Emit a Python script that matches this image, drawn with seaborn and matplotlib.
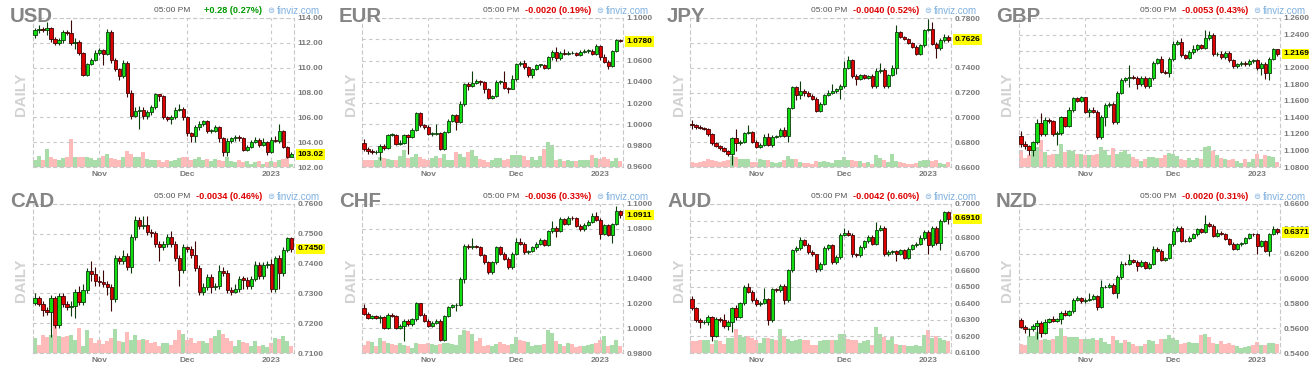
import matplotlib
matplotlib.use("Agg")
import matplotlib.pyplot as plt
import matplotlib.transforms as mtransforms
import numpy as np
import pandas as pd
import seaborn as sns

# ---------------- data ----------------
tickers = ["USD", "EUR", "JPY", "GBP", "CAD", "CHF", "AUD", "NZD"]
changes = ["+0.28 (0.27%)", "-0.0020 (0.19%)", "-0.0040 (0.52%)", "-0.0053 (0.43%)",
           "-0.0034 (0.46%)", "-0.0036 (0.33%)", "-0.0042 (0.60%)", "-0.0020 (0.31%)"]
last_labels = ["103.02", "1.0780", "0.7626", "1.2169", "0.7450", "1.0911", "0.6910", "0.6371"]
time_label = "05:00 PM"
date_labels = ["Nov", "Dec", "2023"]
date_index = [16, 38, 59]

usd_yticks = [102, 104, 106, 108, 110, 112, 114]
eur_yticks = [0.96, 0.98, 1.00, 1.02, 1.04, 1.06, 1.08, 1.10]
jpy_yticks = [0.66, 0.68, 0.70, 0.72, 0.74, 0.76, 0.78]
gbp_yticks = [1.08, 1.10, 1.12, 1.14, 1.16, 1.18, 1.20, 1.22, 1.24, 1.26]
cad_yticks = [0.71, 0.72, 0.73, 0.74, 0.75, 0.76]
chf_yticks = [0.98, 1.00, 1.02, 1.04, 1.06, 1.08, 1.10]
aud_yticks = [0.61, 0.62, 0.63, 0.64, 0.65, 0.66, 0.67, 0.68, 0.69, 0.70]
nzd_yticks = [0.54, 0.56, 0.58, 0.60, 0.62, 0.64, 0.66]

usd_open0 = 112.6
usd_close = [113.0, 113.1, 113.0, 113.2, 112.3, 112.0, 112.2, 112.9, 112.8, 112.0,
             112.1, 111.2, 109.4, 110.3, 110.6, 111.2, 111.4, 111.1, 112.9, 110.6,
             109.9, 109.3, 110.4, 108.0, 106.1, 106.5, 106.6, 106.1, 106.4, 106.8,
             107.9, 107.7, 106.0, 105.9, 106.0, 106.6, 106.7, 106.0, 104.7, 104.5,
             105.2, 105.5, 105.7, 104.9, 104.9, 105.2, 104.3, 103.2, 104.1, 104.3,
             104.4, 104.3, 103.4, 103.6, 104.0, 104.2, 103.8, 104.0, 103.2, 104.2,
             104.1, 104.9, 103.6, 102.8, 103.02]
usd_high = [113.2, 113.4, 113.3, 113.7, 113.3, 112.5, 112.4, 113.0, 113.0, 113.8,
            112.4, 112.2, 111.3, 110.4, 110.8, 111.4, 111.6, 111.5, 113.1, 113.0,
            110.8, 110.0, 110.6, 110.5, 108.2, 106.8, 106.9, 106.8, 106.6, 107.0,
            108.0, 107.9, 107.8, 106.1, 106.2, 106.8, 107.1, 106.8, 106.1, 104.8,
            105.4, 105.7, 105.8, 105.8, 105.1, 105.4, 105.3, 104.4, 104.3, 104.4,
            104.6, 104.6, 104.4, 103.8, 104.2, 104.4, 104.3, 104.3, 104.1, 104.4,
            104.5, 105.5, 105.0, 103.7, 103.2]
usd_low = [112.4, 112.8, 112.9, 112.6, 112.1, 111.8, 111.8, 112.0, 112.6, 111.8,
           111.5, 111.0, 109.3, 109.3, 110.2, 110.5, 111.0, 110.2, 111.0, 110.4,
           109.7, 109.0, 109.2, 107.6, 105.9, 106.0, 105.1, 105.9, 105.9, 106.2,
           106.7, 107.3, 105.9, 105.7, 105.5, 105.9, 106.5, 105.8, 104.5, 104.0,
           104.0, 105.0, 105.3, 104.7, 104.7, 104.8, 104.0, 102.9, 102.9, 103.9,
           104.1, 104.1, 103.3, 103.3, 103.5, 103.9, 103.6, 103.7, 103.0, 103.1,
           104.0, 103.9, 103.5, 102.7, 102.8]
usd_vol = [20, 32, 22, 55, 30, 25, 22, 28, 30, 85, 30, 30, 30, 30, 28, 22, 28, 32, 38, 28,
           25, 22, 30, 48, 40, 30, 30, 45, 25, 20, 20, 22, 15, 20, 18, 22, 28, 30, 30, 22,
           25, 30, 22, 25, 18, 25, 22, 18, 30, 18, 15, 20, 15, 18, 10, 15, 18, 10, 15, 18,
           15, 20, 25, 28, 10]

eur_open0 = 0.983
eur_close = [0.977, 0.975, 0.974, 0.974, 0.980, 0.978, 0.990, 0.990, 0.982, 0.983,
             0.990, 0.988, 0.995, 1.011, 0.999, 0.998, 0.991, 0.991, 0.992, 0.977,
             0.993, 1.003, 1.009, 1.002, 1.019, 1.038, 1.036, 1.039, 1.041, 1.040,
             1.033, 1.025, 1.027, 1.040, 1.040, 1.034, 1.033, 1.043, 1.057, 1.058,
             1.054, 1.046, 1.052, 1.056, 1.056, 1.053, 1.063, 1.068, 1.062, 1.067,
             1.066, 1.067, 1.067, 1.065, 1.068, 1.069, 1.069, 1.066, 1.074, 1.063,
             1.059, 1.055, 1.069, 1.079, 1.078]
eur_high = [0.986, 0.979, 0.977, 0.976, 0.982, 0.982, 0.991, 0.992, 0.991, 0.985,
            0.991, 0.991, 0.997, 1.012, 1.012, 1.000, 0.999, 0.993, 1.000, 0.993,
            0.994, 1.005, 1.010, 1.010, 1.022, 1.039, 1.040, 1.050, 1.043, 1.042,
            1.041, 1.034, 1.028, 1.042, 1.042, 1.050, 1.035, 1.046, 1.058, 1.060,
            1.061, 1.055, 1.053, 1.057, 1.057, 1.057, 1.064, 1.070, 1.073, 1.069,
            1.071, 1.069, 1.069, 1.068, 1.070, 1.071, 1.071, 1.071, 1.076, 1.075,
            1.066, 1.061, 1.070, 1.080, 1.080]
eur_low = [0.975, 0.972, 0.972, 0.972, 0.967, 0.976, 0.977, 0.989, 0.981, 0.981,
           0.982, 0.972, 0.987, 0.994, 0.998, 0.996, 0.990, 0.989, 0.990, 0.976,
           0.976, 0.992, 1.002, 0.995, 1.001, 1.017, 1.032, 1.035, 1.038, 1.037,
           1.030, 1.024, 1.024, 1.026, 1.038, 1.033, 1.030, 1.033, 1.041, 1.055,
           1.052, 1.045, 1.044, 1.051, 1.054, 1.052, 1.052, 1.061, 1.060, 1.061,
           1.065, 1.065, 1.066, 1.064, 1.064, 1.067, 1.067, 1.065, 1.065, 1.061,
           1.058, 1.052, 1.054, 1.068, 1.077]
eur_vol = [22, 22, 22, 22, 30, 28, 25, 22, 22, 32, 50, 28, 30, 38, 30, 25, 20, 28, 32, 26,
           40, 22, 22, 45, 40, 30, 45, 50, 32, 25, 20, 15, 22, 28, 28, 22, 25, 35, 35, 35,
           32, 22, 30, 22, 32, 55, 75, 65, 22, 25, 18, 22, 18, 18, 20, 20, 22, 35, 28, 25,
           30, 25, 18, 28, 18]

jpy_open0 = 0.6945
jpy_close = [0.6935, 0.6925, 0.6915, 0.6905, 0.6865, 0.6790, 0.6770, 0.6750, 0.6730, 0.6705,
             0.6830, 0.6790, 0.6800, 0.6875, 0.6880, 0.6805, 0.6760, 0.6780, 0.6845, 0.6780,
             0.6845, 0.6850, 0.6900, 0.6850, 0.7075, 0.7245, 0.7180, 0.7215, 0.7200, 0.7175,
             0.7150, 0.7050, 0.7110, 0.7180, 0.7200, 0.7210, 0.7225, 0.7250, 0.7400, 0.7460,
             0.7330, 0.7310, 0.7340, 0.7320, 0.7330, 0.7250, 0.7375, 0.7385, 0.7250, 0.7340,
             0.7400, 0.7685, 0.7645, 0.7630, 0.7600, 0.7570, 0.7510, 0.7580, 0.7705, 0.7710,
             0.7590, 0.7555, 0.7620, 0.7645, 0.7626]
jpy_high = [0.6980, 0.6950, 0.6935, 0.6925, 0.6915, 0.6875, 0.6800, 0.6780, 0.6765, 0.6740,
            0.6840, 0.6905, 0.6815, 0.6880, 0.6935, 0.6890, 0.6815, 0.6790, 0.6865, 0.6870,
            0.6855, 0.6860, 0.6915, 0.6920, 0.7085, 0.7255, 0.7250, 0.7290, 0.7225, 0.7215,
            0.7185, 0.7160, 0.7120, 0.7190, 0.7220, 0.7270, 0.7235, 0.7265, 0.7450, 0.7495,
            0.7470, 0.7345, 0.7350, 0.7350, 0.7340, 0.7345, 0.7395, 0.7440, 0.7395, 0.7350,
            0.7420, 0.7745, 0.7695, 0.7655, 0.7640, 0.7610, 0.7580, 0.7590, 0.7715, 0.7790,
            0.7770, 0.7605, 0.7635, 0.7670, 0.7660]
jpy_low = [0.6905, 0.6910, 0.6905, 0.6895, 0.6850, 0.6775, 0.6760, 0.6740, 0.6720, 0.6690,
           0.6620, 0.6725, 0.6780, 0.6790, 0.6865, 0.6795, 0.6750, 0.6750, 0.6770, 0.6770,
           0.6765, 0.6830, 0.6840, 0.6840, 0.6800, 0.7065, 0.7140, 0.7150, 0.7170, 0.7165,
           0.7140, 0.7040, 0.7040, 0.7100, 0.7170, 0.7190, 0.7200, 0.7150, 0.7240, 0.7390,
           0.7320, 0.7260, 0.7300, 0.7310, 0.7310, 0.7240, 0.7240, 0.7360, 0.7235, 0.7240,
           0.7330, 0.7350, 0.7635, 0.7620, 0.7590, 0.7560, 0.7500, 0.7500, 0.7570, 0.7695,
           0.7580, 0.7475, 0.7545, 0.7605, 0.7610]
jpy_vol = [15, 12, 15, 18, 25, 20, 18, 15, 18, 20, 32, 30, 25, 25, 25, 15, 15, 25, 22, 22,
           15, 12, 15, 20, 32, 25, 25, 15, 12, 12, 10, 18, 15, 18, 15, 12, 22, 22, 30, 22,
           20, 18, 18, 12, 15, 10, 35, 28, 22, 15, 38, 18, 15, 12, 10, 10, 12, 18, 20, 22,
           18, 20, 12, 10, 15]

gbp_open0 = 1.118
gbp_close = [1.108, 1.105, 1.101, 1.110, 1.133, 1.120, 1.137, 1.135, 1.120, 1.121,
             1.140, 1.130, 1.149, 1.163, 1.160, 1.164, 1.147, 1.149, 1.147, 1.116,
             1.140, 1.155, 1.156, 1.134, 1.170, 1.185, 1.187, 1.189, 1.188, 1.180,
             1.188, 1.178, 1.187, 1.206, 1.210, 1.195, 1.194, 1.210, 1.229, 1.231,
             1.215, 1.212, 1.219, 1.222, 1.227, 1.224, 1.236, 1.240, 1.216, 1.217,
             1.213, 1.218, 1.209, 1.202, 1.204, 1.206, 1.204, 1.208, 1.209, 1.199,
             1.205, 1.193, 1.211, 1.222, 1.2169]
gbp_high = [1.124, 1.111, 1.107, 1.112, 1.138, 1.145, 1.140, 1.139, 1.137, 1.123,
            1.142, 1.141, 1.152, 1.165, 1.165, 1.166, 1.165, 1.151, 1.152, 1.149,
            1.143, 1.157, 1.158, 1.158, 1.172, 1.187, 1.189, 1.203, 1.191, 1.190,
            1.190, 1.190, 1.189, 1.208, 1.212, 1.214, 1.197, 1.213, 1.232, 1.233,
            1.236, 1.217, 1.221, 1.227, 1.229, 1.229, 1.245, 1.244, 1.242, 1.219,
            1.220, 1.220, 1.220, 1.211, 1.206, 1.208, 1.208, 1.210, 1.210, 1.211,
            1.207, 1.207, 1.213, 1.224, 1.223]
gbp_low = [1.104, 1.102, 1.095, 1.093, 1.108, 1.118, 1.118, 1.133, 1.118, 1.106,
           1.119, 1.128, 1.128, 1.147, 1.158, 1.158, 1.145, 1.141, 1.145, 1.114,
           1.114, 1.130, 1.153, 1.132, 1.132, 1.168, 1.183, 1.177, 1.186, 1.174,
           1.178, 1.176, 1.176, 1.185, 1.204, 1.193, 1.192, 1.189, 1.208, 1.227,
           1.213, 1.210, 1.210, 1.217, 1.220, 1.222, 1.222, 1.234, 1.214, 1.214,
           1.211, 1.211, 1.207, 1.200, 1.200, 1.202, 1.202, 1.202, 1.206, 1.197,
           1.191, 1.186, 1.185, 1.209, 1.214]
gbp_vol = [48, 28, 35, 55, 60, 80, 45, 35, 38, 40, 68, 45, 52, 48, 40, 38, 35, 35, 35, 38,
           60, 50, 35, 58, 38, 45, 52, 38, 30, 25, 18, 25, 30, 30, 28, 28, 35, 42, 38, 32,
           25, 22, 28, 22, 28, 25, 60, 62, 48, 35, 28, 25, 22, 25, 18, 12, 25, 15, 25, 40,
           25, 35, 32, 30, 15]

cad_open0 = 0.7268
cad_close = [0.7285, 0.7265, 0.7245, 0.7237, 0.7285, 0.7195, 0.7290, 0.7265, 0.7255, 0.7258,
             0.7305, 0.7270, 0.7310, 0.7375, 0.7365, 0.7340, 0.7338, 0.7330, 0.7320, 0.7280,
             0.7420, 0.7410, 0.7425, 0.7390, 0.7490, 0.7545, 0.7525, 0.7530, 0.7505, 0.7503,
             0.7465, 0.7455, 0.7465, 0.7490, 0.7465, 0.7420, 0.7380, 0.7455, 0.7450, 0.7430,
             0.7385, 0.7305, 0.7320, 0.7355, 0.7320, 0.7325, 0.7375, 0.7370, 0.7310, 0.7305,
             0.7315, 0.7350, 0.7345, 0.7325, 0.7350, 0.7395, 0.7360, 0.7395, 0.7400, 0.7315,
             0.7420, 0.7370, 0.7445, 0.7485, 0.7450]
cad_high = [0.7300, 0.7290, 0.7275, 0.7255, 0.7295, 0.7290, 0.7300, 0.7300, 0.7275, 0.7275,
            0.7315, 0.7325, 0.7330, 0.7385, 0.7410, 0.7390, 0.7360, 0.7380, 0.7340, 0.7330,
            0.7430, 0.7425, 0.7445, 0.7435, 0.7500, 0.7560, 0.7555, 0.7560, 0.7560, 0.7515,
            0.7510, 0.7475, 0.7475, 0.7500, 0.7510, 0.7475, 0.7430, 0.7465, 0.7460, 0.7460,
            0.7475, 0.7395, 0.7335, 0.7365, 0.7365, 0.7335, 0.7395, 0.7390, 0.7380, 0.7320,
            0.7330, 0.7360, 0.7360, 0.7355, 0.7360, 0.7410, 0.7405, 0.7405, 0.7410, 0.7415,
            0.7425, 0.7430, 0.7455, 0.7490, 0.7488]
cad_low = [0.7260, 0.7258, 0.7225, 0.7228, 0.7155, 0.7185, 0.7185, 0.7255, 0.7245, 0.7225,
           0.7218, 0.7260, 0.7262, 0.7300, 0.7340, 0.7325, 0.7325, 0.7320, 0.7295, 0.7240,
           0.7270, 0.7400, 0.7400, 0.7380, 0.7367, 0.7480, 0.7515, 0.7515, 0.7495, 0.7490,
           0.7455, 0.7410, 0.7445, 0.7455, 0.7455, 0.7410, 0.7325, 0.7370, 0.7440, 0.7420,
           0.7375, 0.7295, 0.7295, 0.7310, 0.7300, 0.7310, 0.7315, 0.7360, 0.7300, 0.7295,
           0.7300, 0.7305, 0.7315, 0.7315, 0.7315, 0.7340, 0.7350, 0.7350, 0.7385, 0.7305,
           0.7305, 0.7315, 0.7360, 0.7440, 0.7440]
cad_vol = [45, 25, 55, 48, 55, 85, 50, 48, 50, 55, 40, 75, 22, 70, 45, 30, 40, 28, 35, 45,
           72, 35, 32, 62, 38, 55, 38, 42, 40, 30, 32, 22, 30, 30, 25, 40, 68, 58, 38, 45,
           30, 35, 35, 30, 45, 50, 68, 58, 45, 35, 22, 40, 32, 30, 20, 35, 22, 25, 18, 30,
           45, 42, 52, 35, 20]

chf_open0 = 1.0165
chf_close = [1.0115, 1.0085, 1.0095, 1.0085, 1.0090, 1.0000, 1.0110, 1.0100, 1.0000, 1.0020,
             1.0060, 1.0030, 1.0070, 1.0200, 1.0110, 1.0060, 1.0020, 1.0040, 1.0060, 0.9905,
             1.0100, 1.0170, 1.0185, 1.0190, 1.0395, 1.0665, 1.0650, 1.0660, 1.0655, 1.0590,
             1.0530, 1.0450, 1.0530, 1.0650, 1.0600, 1.0560, 1.0490, 1.0600, 1.0690, 1.0680,
             1.0610, 1.0620, 1.0650, 1.0680, 1.0710, 1.0670, 1.0780, 1.0810, 1.0785, 1.0880,
             1.0840, 1.0890, 1.0885, 1.0825, 1.0795, 1.0830, 1.0855, 1.0900, 1.0875, 1.0760,
             1.0830, 1.0750, 1.0840, 1.0940, 1.0911]
chf_high = [1.0195, 1.0130, 1.0110, 1.0105, 1.0105, 1.0100, 1.0120, 1.0120, 1.0110, 1.0030,
            1.0070, 1.0070, 1.0085, 1.0210, 1.0205, 1.0120, 1.0070, 1.0055, 1.0075, 1.0070,
            1.0110, 1.0180, 1.0195, 1.0200, 1.0410, 1.0675, 1.0675, 1.0730, 1.0670, 1.0665,
            1.0600, 1.0540, 1.0540, 1.0660, 1.0665, 1.0610, 1.0570, 1.0610, 1.0730, 1.0725,
            1.0690, 1.0630, 1.0660, 1.0690, 1.0725, 1.0720, 1.0790, 1.0865, 1.0820, 1.0895,
            1.0890, 1.0905, 1.0900, 1.0895, 1.0835, 1.0845, 1.0870, 1.0925, 1.0935, 1.0885,
            1.0840, 1.0840, 1.0850, 1.0985, 1.0950]
chf_low = [1.0105, 1.0070, 1.0075, 1.0075, 1.0040, 0.9990, 0.9990, 1.0090, 0.9990, 0.9990,
           0.9900, 1.0020, 1.0020, 1.0060, 1.0100, 1.0050, 1.0010, 1.0010, 1.0030, 0.9895,
           0.9895, 1.0090, 1.0160, 1.0140, 1.0180, 1.0365, 1.0640, 1.0640, 1.0645, 1.0580,
           1.0520, 1.0440, 1.0440, 1.0520, 1.0590, 1.0550, 1.0480, 1.0480, 1.0590, 1.0670,
           1.0600, 1.0600, 1.0610, 1.0640, 1.0670, 1.0660, 1.0660, 1.0770, 1.0735, 1.0775,
           1.0830, 1.0830, 1.0875, 1.0815, 1.0785, 1.0785, 1.0820, 1.0845, 1.0865, 1.0720,
           1.0750, 1.0740, 1.0685, 1.0830, 1.0890]
chf_vol = [25, 35, 32, 20, 45, 35, 30, 28, 25, 30, 25, 20, 15, 30, 28, 28, 30, 28, 25, 28,
           30, 30, 28, 25, 55, 70, 65, 58, 35, 45, 22, 25, 20, 28, 32, 28, 25, 28, 48, 38,
           35, 32, 20, 25, 25, 28, 70, 60, 35, 28, 22, 30, 28, 18, 20, 22, 25, 28, 30, 40,
           50, 22, 25, 40, 20]

aud_open0 = 0.6425
aud_close = [0.6370, 0.6300, 0.6285, 0.6285, 0.6315, 0.6205, 0.6305, 0.6300, 0.6265, 0.6290,
             0.6370, 0.6320, 0.6400, 0.6500, 0.6470, 0.6420, 0.6395, 0.6405, 0.6425, 0.6300,
             0.6485, 0.6480, 0.6505, 0.6420, 0.6600, 0.6720, 0.6735, 0.6780, 0.6755, 0.6710,
             0.6695, 0.6605, 0.6640, 0.6735, 0.6750, 0.6650, 0.6680, 0.6815, 0.6825, 0.6815,
             0.6695, 0.6690, 0.6740, 0.6775, 0.6800, 0.6760, 0.6845, 0.6855, 0.6695, 0.6710,
             0.6715, 0.6700, 0.6720, 0.6675, 0.6730, 0.6750, 0.6760, 0.6795, 0.6830, 0.6750,
             0.6855, 0.6765, 0.6900, 0.6950, 0.6910]
aud_high = [0.6445, 0.6380, 0.6310, 0.6300, 0.6330, 0.6325, 0.6320, 0.6315, 0.6335, 0.6300,
            0.6380, 0.6390, 0.6410, 0.6510, 0.6520, 0.6480, 0.6430, 0.6415, 0.6490, 0.6435,
            0.6495, 0.6490, 0.6515, 0.6515, 0.6610, 0.6730, 0.6745, 0.6800, 0.6790, 0.6765,
            0.6720, 0.6700, 0.6650, 0.6745, 0.6760, 0.6760, 0.6690, 0.6825, 0.6855, 0.6840,
            0.6825, 0.6705, 0.6750, 0.6785, 0.6815, 0.6810, 0.6890, 0.6875, 0.6865, 0.6720,
            0.6725, 0.6725, 0.6730, 0.6730, 0.6740, 0.6760, 0.6770, 0.6810, 0.6845, 0.6840,
            0.6865, 0.6865, 0.6910, 0.6960, 0.6955]
aud_low = [0.6360, 0.6290, 0.6250, 0.6275, 0.6270, 0.6175, 0.6195, 0.6285, 0.6250, 0.6240,
           0.6225, 0.6300, 0.6310, 0.6390, 0.6460, 0.6410, 0.6385, 0.6385, 0.6395, 0.6270,
           0.6290, 0.6470, 0.6470, 0.6395, 0.6410, 0.6590, 0.6710, 0.6725, 0.6745, 0.6700,
           0.6685, 0.6590, 0.6595, 0.6630, 0.6725, 0.6640, 0.6640, 0.6670, 0.6805, 0.6805,
           0.6680, 0.6680, 0.6680, 0.6730, 0.6765, 0.6750, 0.6750, 0.6835, 0.6685, 0.6685,
           0.6700, 0.6655, 0.6690, 0.6665, 0.6665, 0.6720, 0.6740, 0.6750, 0.6785, 0.6700,
           0.6740, 0.6755, 0.6725, 0.6890, 0.6880]
aud_vol = [35, 35, 40, 38, 40, 28, 38, 35, 28, 45, 45, 72, 55, 48, 50, 45, 38, 30, 45, 45,
           42, 40, 72, 50, 42, 35, 38, 42, 40, 38, 25, 25, 35, 40, 38, 38, 38, 58, 58, 42,
           38, 40, 30, 35, 38, 25, 78, 58, 48, 38, 48, 28, 25, 25, 22, 22, 25, 22, 55, 70,
           45, 50, 45, 38, 35]

nzd_open0 = 0.5665
nzd_close = [0.5610, 0.5590, 0.5590, 0.5615, 0.5645, 0.5565, 0.5650, 0.5670, 0.5660, 0.5670,
             0.5725, 0.5710, 0.5735, 0.5830, 0.5840, 0.5815, 0.5825, 0.5835, 0.5860, 0.5770,
             0.5930, 0.5935, 0.5950, 0.5885, 0.6010, 0.6120, 0.6115, 0.6150, 0.6135, 0.6100,
             0.6130, 0.6085, 0.6120, 0.6240, 0.6225, 0.6150, 0.6165, 0.6275, 0.6385, 0.6405,
             0.6305, 0.6300, 0.6330, 0.6355, 0.6395, 0.6375, 0.6440, 0.6425, 0.6345, 0.6370,
             0.6360, 0.6320, 0.6280, 0.6240, 0.6275, 0.6285, 0.6325, 0.6360, 0.6355, 0.6260,
             0.6300, 0.6225, 0.6360, 0.6395, 0.6371]
nzd_high = [0.5680, 0.5625, 0.5605, 0.5630, 0.5665, 0.5655, 0.5675, 0.5685, 0.5700, 0.5680,
            0.5735, 0.5745, 0.5750, 0.5840, 0.5860, 0.5850, 0.5840, 0.5880, 0.5875, 0.5870,
            0.5985, 0.5945, 0.5965, 0.5960, 0.6025, 0.6140, 0.6135, 0.6200, 0.6160, 0.6145,
            0.6145, 0.6140, 0.6130, 0.6265, 0.6250, 0.6235, 0.6175, 0.6285, 0.6410, 0.6420,
            0.6425, 0.6315, 0.6340, 0.6365, 0.6405, 0.6405, 0.6510, 0.6455, 0.6435, 0.6400,
            0.6380, 0.6370, 0.6330, 0.6290, 0.6285, 0.6295, 0.6335, 0.6370, 0.6370, 0.6365,
            0.6310, 0.6310, 0.6370, 0.6420, 0.6405]
nzd_low = [0.5600, 0.5560, 0.5540, 0.5580, 0.5510, 0.5530, 0.5555, 0.5640, 0.5650, 0.5650,
           0.5630, 0.5700, 0.5700, 0.5725, 0.5820, 0.5805, 0.5805, 0.5815, 0.5825, 0.5745,
           0.5760, 0.5920, 0.5925, 0.5875, 0.5840, 0.6000, 0.6105, 0.6105, 0.6125, 0.6060,
           0.6090, 0.6075, 0.6075, 0.6110, 0.6215, 0.6140, 0.6140, 0.6155, 0.6265, 0.6375,
           0.6295, 0.6290, 0.6290, 0.6320, 0.6345, 0.6365, 0.6365, 0.6415, 0.6335, 0.6335,
           0.6350, 0.6310, 0.6270, 0.6230, 0.6230, 0.6265, 0.6275, 0.6315, 0.6345, 0.6196,
           0.6250, 0.6215, 0.6182, 0.6350, 0.6360]
nzd_vol = [28, 25, 50, 50, 62, 38, 42, 40, 42, 50, 75, 50, 48, 48, 48, 42, 42, 42, 45, 38,
           45, 32, 28, 50, 40, 30, 38, 32, 28, 22, 20, 28, 40, 35, 28, 42, 42, 55, 45, 40,
           28, 30, 32, 30, 30, 55, 58, 48, 30, 28, 35, 28, 30, 25, 20, 15, 18, 20, 25, 32,
           25, 25, 30, 30, 28]

panels = [
    ("USD", usd_open0, usd_close, usd_high, usd_low, usd_vol, usd_yticks, 2),
    ("EUR", eur_open0, eur_close, eur_high, eur_low, eur_vol, eur_yticks, 4),
    ("JPY", jpy_open0, jpy_close, jpy_high, jpy_low, jpy_vol, jpy_yticks, 4),
    ("GBP", gbp_open0, gbp_close, gbp_high, gbp_low, gbp_vol, gbp_yticks, 4),
    ("CAD", cad_open0, cad_close, cad_high, cad_low, cad_vol, cad_yticks, 4),
    ("CHF", chf_open0, chf_close, chf_high, chf_low, chf_vol, chf_yticks, 4),
    ("AUD", aud_open0, aud_close, aud_high, aud_low, aud_vol, aud_yticks, 4),
    ("NZD", nzd_open0, nzd_close, nzd_high, nzd_low, nzd_vol, nzd_yticks, 4),
]

# ---------------- style ----------------
sns.set_style("white")
plt.rcParams["font.family"] = ["Liberation Sans", "DejaVu Sans"]

W, H = 1309, 372
COL_LEFT = [33, 362, 690, 1019]
ROW_TOP = [18, 204]
PW, PH = 260.5, 149

UP_FILL, DN_FILL = "#11dd11", "#dd0000"
UP_EDGE, DN_EDGE = "#0b3d0b", "#3d0505"
VOL_UP, VOL_DN = "#a8dca8", "#ffbaba"
GRID = "#c8c8c8"
TXT = "#7a7a7a"

fig = plt.figure(figsize=(W / 100, H / 100), dpi=100)
fig.patch.set_facecolor("white")


def fx(x):
    return x / W


def fy(y):
    return 1 - y / H


for k, (name, open0, close, high, low, vol, yticks, dec) in enumerate(panels):
    col, row = k % 4, k // 4
    left, top = COL_LEFT[col], ROW_TOP[row]
    rect = [fx(left), fy(top + PH), PW / W, PH / H]
    n = len(close)
    idx = np.arange(n)
    opens = np.array([open0] + list(close[:-1]))
    c = np.array(close)
    up = c >= opens

    # volume
    vax = fig.add_axes(rect)
    df = pd.DataFrame({"i": idx, "vol": vol, "dir": np.where(up, "up", "down")})
    sns.barplot(data=df, x="i", y="vol", hue="dir", palette={"up": VOL_UP, "down": VOL_DN},
                native_scale=True, width=1.0, linewidth=0, saturation=1, errorbar=None,
                legend=False, dodge=False, ax=vax)
    vax.set_xlim(-0.5, 64.6)
    vax.set_ylim(0, 445)
    vax.axis("off")

    # price
    ax = fig.add_axes(rect)
    ax.set_facecolor("none")
    ymin, ymax = yticks[0], yticks[-1]
    eps = (ymax - ymin) * 0.004
    body_lo = np.minimum(opens, c)
    body_h = np.maximum(np.abs(c - opens), eps)
    ax.vlines(idx, low, high, colors=np.where(up, UP_EDGE, DN_EDGE), linewidth=0.8, zorder=2)
    ax.bar(idx, body_h, bottom=body_lo, width=0.76, color=np.where(up, UP_FILL, DN_FILL),
           edgecolor=np.where(up, UP_EDGE, DN_EDGE), linewidth=0.6, zorder=3)
    ax.set_xlim(-0.5, 64.6)
    ax.set_ylim(ymin, ymax)

    ax.yaxis.tick_right()
    ax.set_yticks(yticks)
    ax.set_yticklabels([f"{v:.{dec}f}" for v in yticks])
    ax.set_xticks(date_index)
    ax.set_xticklabels(date_labels)
    ax.tick_params(axis="both", length=0, labelsize=6.0, labelcolor=TXT)
    ax.tick_params(axis="y", pad=3)
    ax.tick_params(axis="x", pad=3)
    for lab in ax.get_xticklabels() + ax.get_yticklabels():
        lab.set_fontweight("bold")
    ax.grid(True, linestyle=(0, (3, 3)), color=GRID, linewidth=0.8)
    for s in ax.spines.values():
        s.set_visible(True)
        s.set_linestyle((0, (3, 3)))
        s.set_color(GRID)
        s.set_linewidth(0.8)
    ax.set_xlabel("")
    ax.set_ylabel("")

    # last price tag
    trans = mtransforms.blended_transform_factory(ax.transAxes, ax.transData)
    ax.text(1.0 + 4 / PW, close[-1], last_labels[k], transform=trans, ha="left", va="center",
            fontsize=6.0, fontweight="bold", color="black", zorder=10, clip_on=False,
            bbox=dict(boxstyle="square,pad=0.2", fc="#ffff00", ec="none"))

    # header texts
    fig.text(fx(left - 23), fy(top + 3.5), name, fontsize=14.7, fontweight="bold",
             color="#858585", ha="left", va="baseline")
    fig.text(fx(left - 11.5), fy(top + 76), "DAILY", fontsize=10.8, fontweight="bold",
             color="#d2d2d2", rotation=90, ha="center", va="center")
    fig.text(fx(left + 121), fy(top - 7.5), time_label, fontsize=6.0, color="#555555",
             ha="left", va="center")
    ch = changes[k]
    fig.text(fx(left + 229), fy(top - 7.5), ch, fontsize=6.6, fontweight="bold",
             color="#009900" if ch.startswith("+") else "#dd0000", ha="right", va="center")
    fig.text(fx(left + 234), fy(top - 7.5), "\u229c", fontsize=6.0, color="#7fb0e0",
             ha="left", va="center", family="DejaVu Sans")
    fig.text(fx(left + 244), fy(top - 7.5), "finviz.com", fontsize=7.0,
             color="#7fb0e0", ha="left", va="center")

fig.savefig("out.png", dpi=100, facecolor="white")
